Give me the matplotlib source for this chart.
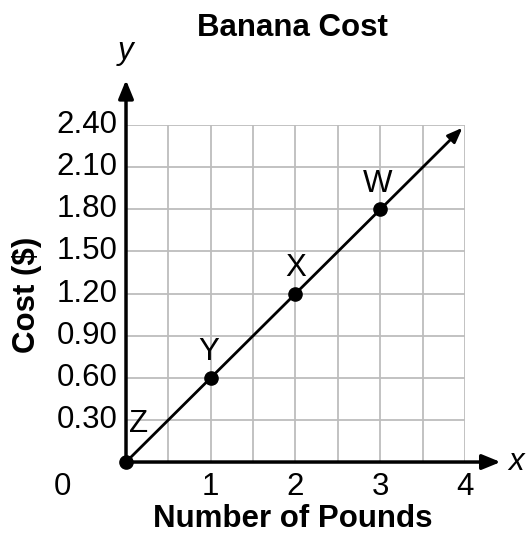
import matplotlib.pyplot as plt
import numpy as np

plt.rcParams['font.family'] = ['Liberation Sans', 'DejaVu Sans']

# data
pounds = [0, 1, 2, 3]
cost = [0.0, 0.6, 1.2, 1.8]
point_names = ['Z', 'Y', 'X', 'W']
x_ticks = [1, 2, 3, 4]
y_ticks = [0.30, 0.60, 0.90, 1.20, 1.50, 1.80, 2.10, 2.40]
line_end = (3.97, 2.38)

FS = 22.5

fig = plt.figure(figsize=(5.29, 5.35), dpi=100)
ax = fig.add_axes([0.2382, 0.1364, 0.6408, 0.63])

ax.set_xlim(0, 4)
ax.set_ylim(0, 2.4)
for s in ax.spines.values():
    s.set_visible(False)

# grid
for gx in np.arange(0.5, 4.01, 0.5):
    ax.plot([gx, gx], [0, 2.4], color='#bdbdbd', lw=1.3, zorder=1)
for gy in np.arange(0.3, 2.41, 0.3):
    ax.plot([0, 4], [gy, gy], color='#bdbdbd', lw=1.3, zorder=1)

ax.set_xticks([])
ax.set_yticks([])

# axes arrows
ax.annotate('', xy=(4.42, 0), xytext=(0, 0), annotation_clip=False,
            arrowprops=dict(arrowstyle='-|>,head_length=1.1,head_width=0.45',
                            color='black', lw=2.5, shrinkA=0, shrinkB=0), zorder=3)
ax.annotate('', xy=(0, 2.72), xytext=(0, 0), annotation_clip=False,
            arrowprops=dict(arrowstyle='-|>,head_length=1.1,head_width=0.45',
                            color='black', lw=2.5, shrinkA=0, shrinkB=0), zorder=3)

# cost line
ax.annotate('', xy=line_end, xytext=(0, 0), annotation_clip=False,
            arrowprops=dict(arrowstyle='-|>,head_length=0.9,head_width=0.35',
                            color='black', lw=2, shrinkA=0, shrinkB=0), zorder=4)
ax.plot(pounds, cost, 'o', color='black', markersize=9.5, clip_on=False, zorder=5)

offsets = {'Z': (0.15, 0.27), 'Y': (-0.02, 0.18), 'X': (0.0, 0.18), 'W': (-0.03, 0.18)}
for px, py, name in zip(pounds, cost, point_names):
    dx, dy = offsets[name]
    ax.text(px + dx, py + dy, name, fontsize=FS, ha='center', va='center')

# tick labels
for t in x_ticks:
    ax.text(t, -0.18, str(t), fontsize=FS, ha='center', va='center')
ax.text(-0.75, -0.18, '0', fontsize=FS, ha='center', va='center')
for t in y_ticks:
    ax.text(-0.1, t, f'{t:.2f}', fontsize=FS, ha='right', va='center')

ax.text(4.6, 0, 'x', fontsize=FS, style='italic', ha='center', va='center')
ax.text(0, 2.93, 'y', fontsize=FS, style='italic', ha='center', va='center')

fig.text(0.553, 0.948, 'Banana Cost', fontsize=FS, fontweight='bold', ha='center', va='center')
fig.text(0.553, 0.03, 'Number of Pounds', fontsize=FS, fontweight='bold', ha='center', va='center')
fig.text(0.051, 0.449, 'Cost ($)', fontsize=FS, fontweight='bold', ha='center', va='center',
         rotation=90)

fig.savefig('out.png', dpi=100)
